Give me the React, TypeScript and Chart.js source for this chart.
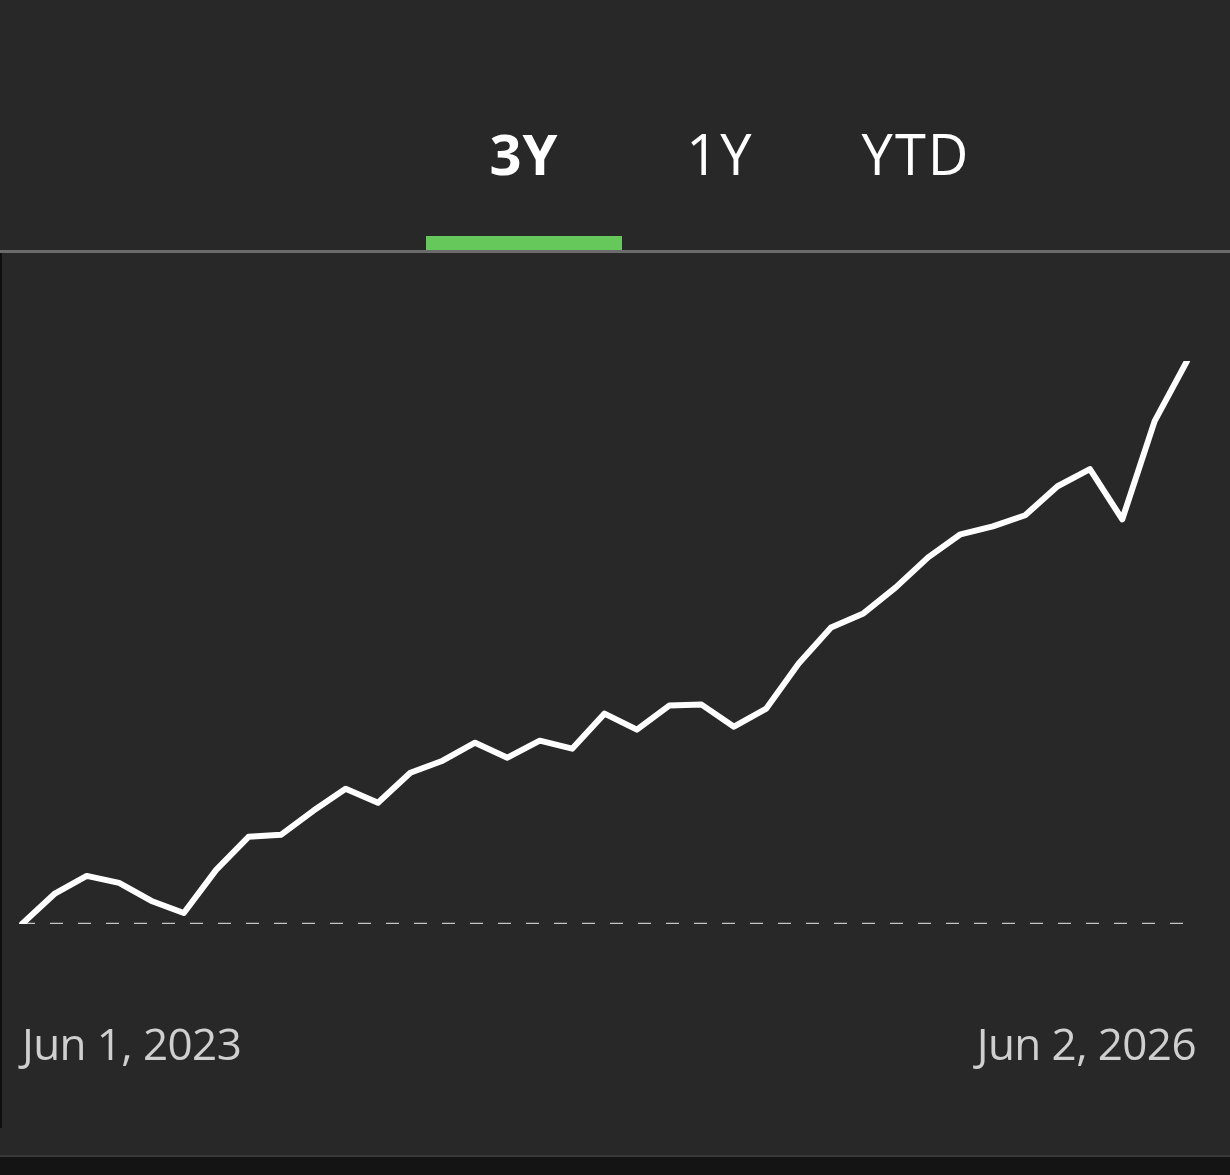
import React, { useEffect, useRef } from "react";
import { Chart, registerables } from "chart.js";

Chart.register(...registerables);

const months: string[] = [
  "Jun 2023", "Jul 2023", "Aug 2023", "Sep 2023", "Oct 2023", "Nov 2023", "Dec 2023",
  "Jan 2024", "Feb 2024", "Mar 2024", "Apr 2024", "May 2024", "Jun 2024", "Jul 2024",
  "Aug 2024", "Sep 2024", "Oct 2024", "Nov 2024", "Dec 2024", "Jan 2025", "Feb 2025",
  "Mar 2025", "Apr 2025", "May 2025", "Jun 2025", "Jul 2025", "Aug 2025", "Sep 2025",
  "Oct 2025", "Nov 2025", "Dec 2025", "Jan 2026", "Feb 2026", "Mar 2026", "Apr 2026",
  "May 2026", "Jun 2026",
];

const returnsPct: number[] = [
  0, 3.0, 4.8, 4.1, 2.3, 1.1, 5.4, 8.7, 8.9, 11.3, 13.5, 12.1, 15.1, 16.3, 18.1, 16.6,
  18.3, 17.5, 21.0, 19.4, 21.8, 21.9, 19.7, 21.5, 26.0, 29.6, 31.0, 33.6, 36.6, 38.9,
  39.7, 40.8, 43.7, 45.4, 40.4, 50.2, 56.2,
];

const baseline: number[] = months.map(() => 0);

const tabs: string[] = ["3Y", "1Y", "YTD"];
const startLabel = "Jun 1, 2023";
const endLabel = "Jun 2, 2026";

export default function App() {
  const canvasRef = useRef<HTMLCanvasElement | null>(null);

  useEffect(() => {
    if (!canvasRef.current) return;
    const chart = new Chart(canvasRef.current, {
      type: "line",
      data: {
        labels: months,
        datasets: [
          {
            data: returnsPct,
            borderColor: "#ffffff",
            borderWidth: 6,
            pointRadius: 0,
            borderJoinStyle: "round",
            borderCapStyle: "round",
            tension: 0,
            fill: false,
            order: 0,
          },
          {
            data: baseline,
            borderColor: "#c4c4c4",
            borderWidth: 2.5,
            borderDash: [13, 15],
            pointRadius: 0,
            fill: false,
            order: 1,
          },
        ],
      },
      options: {
        animation: false,
        responsive: false,
        maintainAspectRatio: false,
        layout: { padding: { left: 22, right: 43, top: 108, bottom: 204 } },
        plugins: { legend: { display: false }, tooltip: { enabled: false } },
        scales: {
          x: { display: false },
          y: { display: false, min: 0, max: 56.2 },
        },
      },
    });
    return () => chart.destroy();
  }, []);

  const font = "'Open Sans', 'Noto Sans', sans-serif";

  return (
    <div
      style={{
        position: "absolute",
        left: 0,
        top: 0,
        width: 1230,
        height: 1175,
        background: "#282828",
        overflow: "hidden",
        fontFamily: font,
      }}
    >
      {tabs.map((t, i) => (
        <div
          key={t}
          style={{
            position: "absolute",
            left: 426 + i * 196,
            top: 125,
            width: 196,
            textAlign: "center",
            fontSize: 56,
            lineHeight: 1,
            fontWeight: i === 0 ? 700 : 400,
            color: "#ffffff",
            letterSpacing: i === 0 ? 1 : 2,
          }}
        >
          {t}
        </div>
      ))}
      <div style={{ position: "absolute", left: 426, top: 236, width: 196, height: 14, background: "#66c75a" }} />
      <div style={{ position: "absolute", left: 0, top: 250, width: 1230, height: 3, background: "#6b6b6b" }} />
      <div style={{ position: "absolute", left: 0, top: 253, width: 2, height: 875, background: "#0e0e0e" }} />
      <canvas
        ref={canvasRef}
        width={1230}
        height={875}
        style={{ position: "absolute", left: 0, top: 253, width: 1230, height: 875 }}
      />
      <div
        style={{
          position: "absolute",
          left: 22,
          top: 1021,
          fontSize: 44,
          lineHeight: 1,
          letterSpacing: -0.6,
          color: "#cfcfcf",
          whiteSpace: "nowrap",
        }}
      >
        {startLabel}
      </div>
      <div
        style={{
          position: "absolute",
          right: 1230 - 1196,
          top: 1021,
          fontSize: 44,
          lineHeight: 1,
          letterSpacing: -0.6,
          color: "#cfcfcf",
          whiteSpace: "nowrap",
        }}
      >
        {endLabel}
      </div>
      <div style={{ position: "absolute", left: 0, top: 1155, width: 1230, height: 2, background: "#3a3a3a" }} />
      <div style={{ position: "absolute", left: 0, top: 1157, width: 1230, height: 18, background: "#141414" }} />
    </div>
  );
}
